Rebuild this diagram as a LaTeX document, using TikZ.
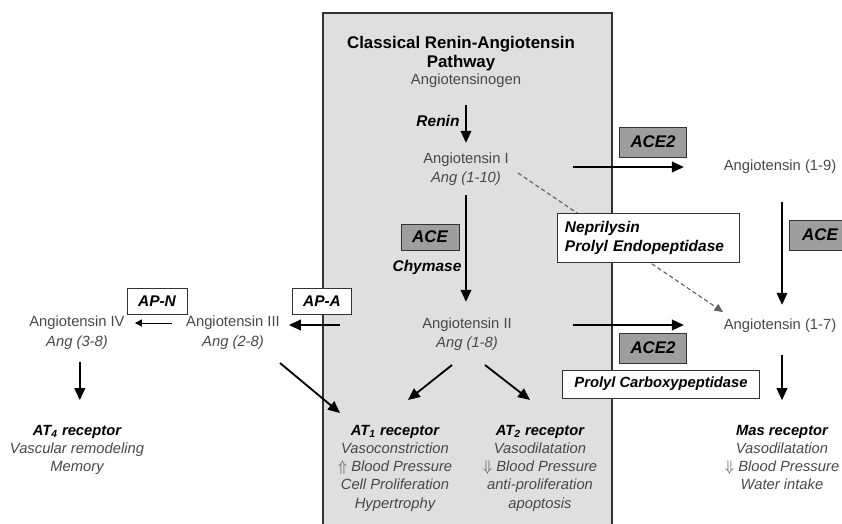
\documentclass[tikz,border=0pt]{standalone}
\usepackage{fontspec}
\setmainfont{Liberation Sans}
\usepackage{xcolor}
\usepackage{tikz}
\usetikzlibrary{arrows.meta}
\definecolor{rasbg}{RGB}{223,223,223}
\definecolor{rasframe}{RGB}{50,50,50}
\definecolor{rasenz}{RGB}{158,158,158}
\definecolor{rastext}{RGB}{72,72,72}
\definecolor{rasdash}{RGB}{95,95,95}

\begin{document}
\begin{tikzpicture}[x=0.025cm, y=-0.025cm,
        mol/.style={inner sep=0pt, text=rastext, font=\fontsize{10.5}{12.9}\selectfont},
        molsub/.style={inner sep=0pt, text=rastext, font=\fontsize{10.5}{12.9}\selectfont\itshape},
        recep/.style={inner sep=0pt, anchor=north, align=center, text=rastext,
                      font=\fontsize{10.5}{12.9}\selectfont\itshape},
        enzbox/.style={draw=rasframe, fill=rasenz, inner sep=0pt, minimum height=0.75cm,
                       font=\fontsize{12}{14}\selectfont\bfseries\itshape},
        notebox/.style={draw=rasframe, fill=white, inner sep=0pt,
                        font=\fontsize{11}{13}\selectfont\bfseries\itshape},
        enzlabel/.style={inner sep=0pt, font=\fontsize{11}{13}\selectfont\bfseries\itshape},
        conv/.style={line width=1.3pt, -{Triangle[length=8.5pt,width=7.5pt]}},
        thinconv/.style={line width=0.7pt, -{Triangle[length=5pt,width=5pt]}},
        alt/.style={rasdash, line width=0.8pt, dash pattern=on 3pt off 2pt,
                    -{Triangle[length=6pt,width=5.5pt]}}]
    \useasboundingbox (0,0) rectangle (842,524);

    % classical pathway panel (open at the bottom)
    \fill[rasbg] (323,13) rectangle (612,524);
    \draw[rasframe, line width=1.2pt] (323,524) -- (323,13) -- (612,13) -- (612,524);

    \node[inner sep=0pt, align=center, font=\fontsize{12}{13.6}\selectfont\bfseries] (title)
        at (461,54) {Classical Renin-Angiotensin\\Pathway};

    % peptides
    \node[mol] (agen) at (466,81) {Angiotensinogen};
    \node[mol, label={[molsub, label distance=2.8pt]below:{Ang (1-10)}}] (ang1) at (466,160) {Angiotensin I};
    \node[mol, label={[molsub, label distance=2.8pt]below:{Ang (1-8)}}] (ang2) at (467,325) {Angiotensin II};
    \node[mol, label={[molsub, label distance=3.5pt]below:{Ang (2-8)}}] (ang3) at (233,323) {Angiotensin III};
    \node[mol, label={[molsub, label distance=3.5pt]below:{Ang (3-8)}}] (ang4) at (77,323) {Angiotensin IV};
    \node[mol] (ang19) at (780,167) {Angiotensin (1-9)};
    \node[mol] (ang17) at (780,326) {Angiotensin (1-7)};

    % receptors
    \node[recep] (at1) at (395,425) {\textcolor{black}{\bfseries AT\textsubscript{1} receptor}\\
        Vasoconstriction\\$\Uparrow$ Blood Pressure\\Cell Proliferation\\Hypertrophy};
    \node[recep] (at2) at (540,425) {\textcolor{black}{\bfseries AT\textsubscript{2} receptor}\\
        Vasodilatation\\$\Downarrow$ Blood Pressure\\anti-proliferation\\apoptosis};
    \node[recep] (at4) at (77,425) {\textcolor{black}{\bfseries AT\textsubscript{4} receptor}\\
        Vascular remodeling\\Memory};
    \node[recep] (mas) at (782,425) {\textcolor{black}{\bfseries Mas receptor}\\
        Vasodilatation\\$\Downarrow$ Blood Pressure\\Water intake};

    % conversions
    \draw[conv, shorten <=0.42cm, shorten >=0.25cm] (agen.south) --
        node[enzlabel, left=4pt] (renin) {Renin} (ang1.north);
    \draw[conv, shorten <=0.7cm, shorten >=0.4cm] (ang1.south) -- (ang1.south |- ang2.north);
    \draw[conv, shorten <=1.6cm, shorten >=0.99cm] (ang1.east |- ang19.west) -- (ang19.west);
    \draw[conv, shorten <=1.52cm, shorten >=0.99cm] (ang2.east) -- (ang2.east -| ang17.west);
    \draw[conv, shorten <=0.7cm, shorten >=0.35cm] ([xshift=0.05cm]ang19.south) -- ([xshift=0.05cm]ang17.north);
    \draw[conv, shorten <=0.55cm, shorten >=0.62cm] ([xshift=0.05cm]ang17.south) -- (mas.north);
    \draw[conv, shorten <=0.8cm, shorten >=0.62cm] ([xshift=0.07cm]ang4.south) -- ([xshift=0.07cm]at4.north);
    \draw[conv, shorten <=2.05cm, shorten >=0.22cm] (ang2.west) -- (ang2.west -| ang3.east);
    \draw[thinconv, shorten <=0.35cm, shorten >=0.25cm] (ang3.west) -- (ang4.east);
    \draw[conv] ([shift={(-15,40)}]ang2.center) -- ([shift={(13,-25)}]at1.north);
    \draw[conv] ([shift={(18,40)}]ang2.center) -- ([shift={(-10,-25)}]at2.north);
    \draw[conv] ([shift={(47,40)}]ang3.center) -- ([shift={(-55,-12)}]at1.north);
    \draw[alt] ([shift={(52,13)}]ang1.center) -- ([shift={(-57,-14)}]ang17.center);

    % enzymes
    \node[enzbox, minimum width=1.45cm, minimum height=0.65cm] (ace) at (430,237) {ACE};
    \node[enzlabel] (chymase) at (427,268) {Chymase};
    \node[enzbox, minimum width=1.68cm] (ace2a) at (653,142) {ACE2};
    \node[enzbox, minimum width=1.68cm] (ace2b) at (653,348) {ACE2};
    \node[enzbox, minimum width=1.55cm] (aceb) at (820,235) {ACE};
    \node[notebox, minimum width=1.48cm, minimum height=0.65cm] (apa) at (322,301) {AP-A};
    \node[notebox, minimum width=1.5cm, minimum height=0.65cm] (apn) at (157,301) {AP-N};
    \node[notebox, minimum width=4.55cm, minimum height=1.22cm, align=left,
          text width=4.15cm] (nep) at (648,238) {Neprilysin\\Prolyl Endopeptidase};
    \node[notebox, minimum width=4.92cm, minimum height=0.7cm,
          font=\fontsize{10.5}{12}\selectfont\bfseries\itshape] (pcp) at (661,384) {Prolyl Carboxypeptidase};
\end{tikzpicture}
\end{document}
